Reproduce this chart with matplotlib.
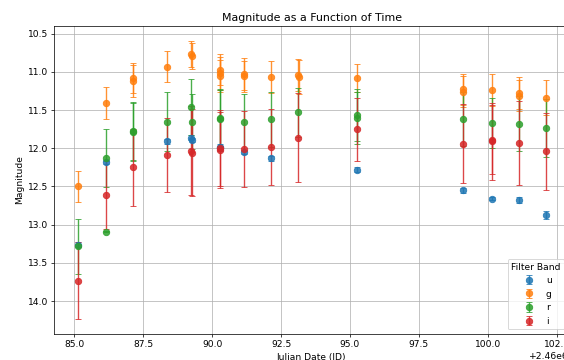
import matplotlib
matplotlib.use('Agg')
import matplotlib.pyplot as plt

# observations per filter band (JD, magnitude, error)
u_jd = [2460085.15, 2460086.15, 2460088.37, 2460089.25, 2460089.26, 2460090.28, 2460090.29,
        2460091.14, 2460092.12, 2460095.24, 2460099.11, 2460100.15, 2460101.14, 2460102.12]
u_mag = [13.26, 12.18, 11.91, 11.86, 11.89, 11.98, 12.00, 12.05, 12.13, 12.28, 12.55, 12.66, 12.68, 12.87]
u_err = [0.03, 0.03, 0.03, 0.03, 0.03, 0.03, 0.03, 0.03, 0.03, 0.03, 0.03, 0.02, 0.04, 0.05]

g_jd = [2460085.15, 2460086.14, 2460087.13, 2460087.14, 2460088.37, 2460089.25, 2460089.26,
        2460090.27, 2460090.28, 2460090.29, 2460091.14, 2460091.15, 2460092.12, 2460093.13,
        2460093.14, 2460095.24, 2460099.11, 2460099.12, 2460100.15, 2460101.14, 2460101.15,
        2460102.12]
g_mag = [12.50, 11.41, 11.08, 11.12, 10.93, 10.76, 10.79, 10.97, 11.02, 11.05, 11.03, 11.06,
         11.07, 11.04, 11.07, 11.08, 11.23, 11.26, 11.24, 11.28, 11.31, 11.34]
g_err = [0.20, 0.21, 0.20, 0.21, 0.20, 0.17, 0.17, 0.20, 0.22, 0.21, 0.21, 0.20, 0.21, 0.21,
         0.22, 0.18, 0.20, 0.20, 0.21, 0.21, 0.20, 0.23]

r_jd = [2460085.14, 2460086.15, 2460086.16, 2460087.13, 2460087.14, 2460088.37, 2460089.25,
        2460089.26, 2460090.27, 2460090.28, 2460091.14, 2460092.12, 2460093.13, 2460095.24,
        2460095.25, 2460099.11, 2460100.15, 2460101.14, 2460102.12]
r_mag = [13.28, 12.13, 13.09, 11.77, 11.79, 11.65, 11.46, 11.65, 11.60, 11.62, 11.66, 11.62,
         11.53, 11.57, 11.60, 11.62, 11.67, 11.68, 11.74]
r_err = [0.36, 0.38, 0.01, 0.38, 0.38, 0.38, 0.36, 0.36, 0.38, 0.38, 0.37, 0.36, 0.32, 0.34,
         0.34, 0.35, 0.33, 0.36, 0.38]

i_jd = [2460085.15, 2460086.15, 2460087.13, 2460088.37, 2460089.25, 2460089.26, 2460090.28,
        2460090.29, 2460091.14, 2460092.12, 2460093.13, 2460095.24, 2460099.11, 2460100.15,
        2460100.16, 2460101.14, 2460102.12]
i_mag = [13.73, 12.61, 12.25, 12.09, 12.03, 12.06, 12.00, 12.02, 12.01, 11.98, 11.86, 11.75,
         11.94, 11.89, 11.91, 11.93, 12.04]
i_err = [0.50, 0.45, 0.50, 0.48, 0.58, 0.57, 0.50, 0.50, 0.50, 0.50, 0.58, 0.41, 0.52, 0.45,
         0.50, 0.55, 0.50]

bands = ['u', 'g', 'r', 'i']
colors = ['tab:blue', 'tab:orange', 'tab:green', 'tab:red']
data = [(u_jd, u_mag, u_err), (g_jd, g_mag, g_err), (r_jd, r_mag, r_err), (i_jd, i_mag, i_err)]

dpi = 65.7
fig = plt.figure(figsize=(565 / dpi, 360 / dpi), dpi=dpi)
ax = fig.add_axes([0.096, 0.0722, 0.911, 0.8556])

for band, c, (jd, mag, err) in zip(bands, colors, data):
    ax.errorbar(jd, mag, yerr=err, fmt='o', color=c, markersize=7, capsize=3.5,
                alpha=0.85, label=band)

ax.set_xlim(2460084.27, 2460102.95)
ax.set_ylim(14.43, 10.40)
ax.set_title('Magnitude as a Function of Time')
ax.set_xlabel('Julian Date (JD)')
ax.set_ylabel('Magnitude')
ax.grid(True)
ax.legend(title='Filter Band', loc='lower right')

plt.savefig('out.png', dpi=dpi)
